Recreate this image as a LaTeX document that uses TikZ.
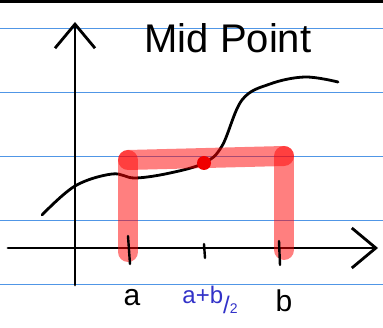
\documentclass[tikz,border=0pt]{standalone}
\usepackage{fontspec}
\setmainfont{Liberation Sans}
\usetikzlibrary{arrows.meta}

\begin{document}
\begin{tikzpicture}[x=1pt, y=-1pt,
  rule/.style={draw={rgb,255:red,80;green,150;blue,230}, line width=1pt},
  axis/.style={line width=2.8pt, line cap=round,
               -{Straight Barb[length=24pt, width=40pt, line width=2.8pt]}},
  tick/.style={line width=2.4pt, line cap=round},
  band/.style={draw=red, opacity=0.5, line width=20pt, line cap=round},
  ink/.style={font=\fontsize{30}{30}\selectfont},
  blueink/.style={text={rgb,255:red,50;green,50;blue,200}, font=\fontsize{24}{24}\selectfont}
]
  \useasboundingbox (0,0) rectangle (383,328);
  \fill[black] (0,0) rectangle (383,3);

  % ruled lines of the page
  \foreach \y in {29,93,157,221,285}
    \draw[rule] (0,\y) -- (383,\y);

  % axes
  \coordinate (o) at (75,285);
  \coordinate (ytop) at (75,22);
  \coordinate (xl) at (8,248);
  \coordinate (xr) at (378,248);
  \draw[axis] (o) -- (ytop);
  \draw[axis] (xl) -- (xr);

  % curve
  \draw[line width=2.8pt, line cap=round] plot[smooth, tension=0.6] coordinates
    {(42,215) (75,186) (112,174) (135,178) (170,173) (204,163) (222,146)
     (242,100) (270,84) (305,77) (338,82)};

  % red bands
  \coordinate (la) at (128,252);
  \coordinate (lt) at (128,160);
  \coordinate (rt) at (284,156);
  \coordinate (rb) at (284,250);
  \draw[band] (la) -- (lt);
  \draw[band] (lt) -- (rt);
  \draw[band] (rt) -- (rb);

  % ticks
  \draw[tick] (128,236) -- (130,264);
  \draw[tick] (204,244) -- (205,258);
  \draw[tick] (279,241) -- (280,265);

  \node[circle, fill={rgb,255:red,240;green,0;blue,0}, inner sep=0pt,
        minimum size=14pt] (mid) at (204,163) {};

  % labels
  \node[ink, font=\fontsize{40}{40}\selectfont] (title) at (228,38) {Mid Point};
  \node[ink] (lbla) at (132,298) {a};
  \node[ink] (lblb) at (284,301) {b};
  \node[blueink] (lblm) at (210,300) {a+b\raisebox{-10pt}{/\fontsize{14}{14}\selectfont 2}};
\end{tikzpicture}
\end{document}
